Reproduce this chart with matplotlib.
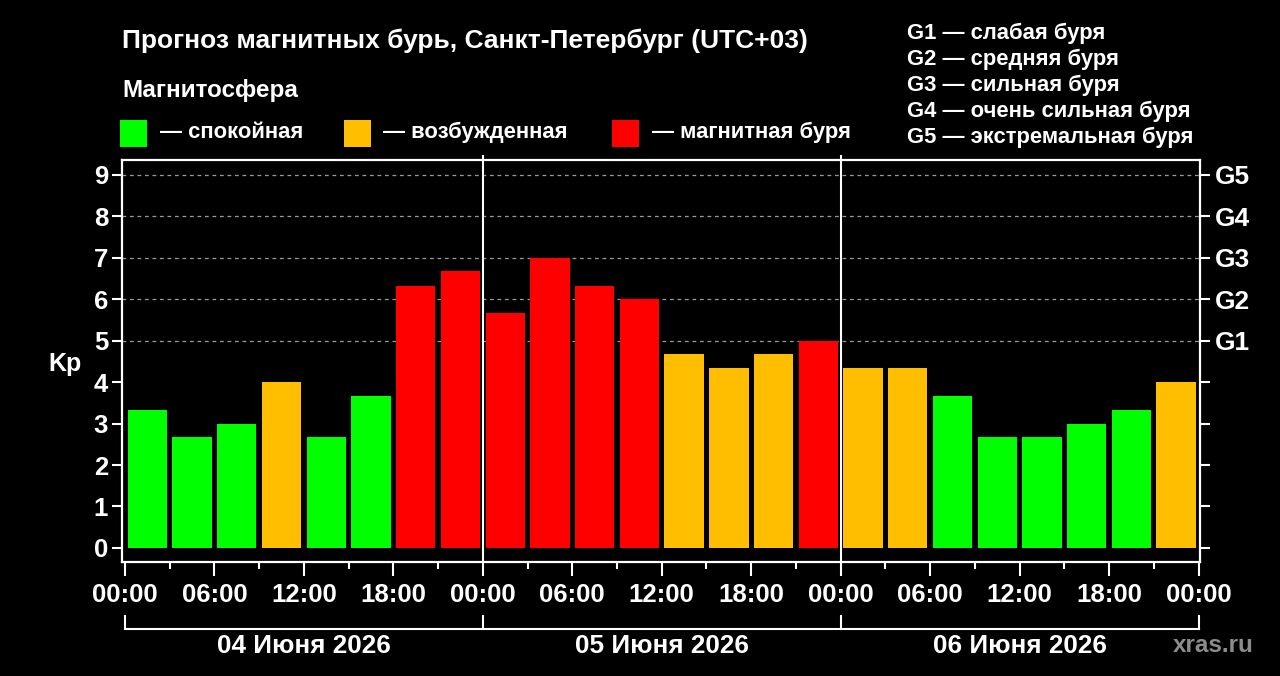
import matplotlib
matplotlib.use("Agg")
import matplotlib.pyplot as plt
from matplotlib.transforms import blended_transform_factory
from matplotlib.patches import Rectangle

plt.rcParams['font.family'] = ['Liberation Sans', 'DejaVu Sans']
plt.rcParams['font.weight'] = 'bold'

# ---- data ----
kp_values = [3.33, 2.67, 3.0, 4.0, 2.67, 3.67, 6.33, 6.67,
             5.67, 7.0, 6.33, 6.0, 4.67, 4.33, 4.67, 5.0,
             4.33, 4.33, 3.67, 2.67, 2.67, 3.0, 3.33, 4.0]
day_labels = ["04 Июня 2026", "05 Июня 2026", "06 Июня 2026"]
hour_labels = ["00:00", "06:00", "12:00", "18:00"]
g_labels = ["G1", "G2", "G3", "G4", "G5"]
g_desc = ["G1 — слабая буря", "G2 — средняя буря", "G3 — сильная буря",
          "G4 — очень сильная буря", "G5 — экстремальная буря"]
legend_labels = ["— спокойная", "— возбужденная", "— магнитная буря"]

GREEN = "#00ff00"
ORANGE = "#ffbf00"
RED = "#ff0000"


def color_for(v):
    if v < 4:
        return GREEN
    if v < 5:
        return ORANGE
    return RED


W, H = 1280, 676
fig = plt.figure(figsize=(W / 100, H / 100), dpi=100, facecolor="black")
ax = fig.add_axes([122 / W, 1 - 562 / H, (1200 - 122) / W, (562 - 160) / H])
ax.set_facecolor("black")

xs = [1.5 + 3 * i for i in range(len(kp_values))]
ax.bar(xs, kp_values, width=2.64, color=[color_for(v) for v in kp_values],
       zorder=3)

ax.set_xlim(-0.2, 72.1)
ax.set_ylim(-0.34, 9.36)

# grid lines (only at storm levels)
for y in range(5, 10):
    ax.axhline(y, color="#9a9a9a", lw=0.9, ls=(0, (3, 3)), zorder=1)

# day separators
for d in (24, 48):
    ax.plot([d, d], [-0.34, 9.45], color="white", lw=1.5, zorder=4,
            clip_on=False)

for s in ax.spines.values():
    s.set_color("white")
    s.set_linewidth(1.6)

# x ticks
major = list(range(0, 73, 6))
ax.set_xticks(major)
ax.set_xticklabels([hour_labels[(h // 6) % 4] for h in major])
ax.set_xticks(list(range(3, 72, 6)), minor=True)
ax.tick_params(axis="x", which="major", length=10, width=1.5, colors="white",
               labelsize=18.5, pad=5)
ax.tick_params(axis="x", which="minor", length=5, width=1.5, colors="white")

# y ticks
ax.set_yticks(range(0, 10))
ax.tick_params(axis="y", which="major", length=7, width=1.5, colors="white",
               labelsize=18.5, pad=3)
for lab in ax.get_yticklabels() + ax.get_xticklabels():
    lab.set_fontweight("bold")

ax2 = ax.twinx()
ax2.set_ylim(ax.get_ylim())
ax2.set_yticks(range(0, 10))
ax2.set_yticklabels([""] * 5 + g_labels)
ax2.tick_params(axis="y", length=7, width=1.5, colors="white", labelsize=19,
                pad=4)
for lab in ax2.get_yticklabels():
    lab.set_fontweight("bold")
for s in ax2.spines.values():
    s.set_visible(False)

fig.text(48 / W, 1 - 364 / H, "Kp", color="white", fontsize=18,
         fontweight="bold", va="center", ha="left")

# day bracket
tr = blended_transform_factory(ax.transData, fig.transFigure)
y_line = 1 - 629 / H
y_top = 1 - 616 / H
ax.plot([0, 72], [y_line, y_line], color="white", lw=1.5, transform=tr,
        clip_on=False)
for d in (0, 24, 48, 72):
    ax.plot([d, d], [y_line, y_top], color="white", lw=1.5, transform=tr,
            clip_on=False)
for i, lab in enumerate(day_labels):
    ax.text(12 + 24 * i, 1 - 646 / H, lab, transform=tr, color="white",
            fontsize=18.8, fontweight="bold", ha="center", va="center")

fig.text(1213 / W, 1 - 646 / H, "xras.ru", color="#8c8c8c", fontsize=17.5,
         fontweight="bold", ha="center", va="center")

# title + legend
fig.text(122 / W, 1 - 41 / H, "Прогноз магнитных бурь, Санкт-Петербург (UTC+03)",
         color="white", fontsize=19, fontweight="bold", ha="left", va="center")
fig.text(122 / W, 1 - 91 / H, "Магнитосфера", color="white", fontsize=17.5,
         fontweight="bold", ha="left", va="center")

sq = [(120, GREEN, 160), (344, ORANGE, 383), (612, RED, 652)]
for (x0, c, tx), lab in zip(sq, legend_labels):
    fig.patches.append(Rectangle((x0 / W, 1 - 147 / H), 27 / W, 27 / H,
                                 transform=fig.transFigure, facecolor=c,
                                 edgecolor="none"))
    fig.text(tx / W, 1 - 132 / H, lab, color="white", fontsize=15.8,
             fontweight="bold", ha="left", va="center")

for i, t in enumerate(g_desc):
    fig.text(907 / W, 1 - (33 + 26 * i) / H, t, color="white", fontsize=15.8,
             fontweight="bold", ha="left", va="center")

fig.savefig("out.png", dpi=100, facecolor="black")
